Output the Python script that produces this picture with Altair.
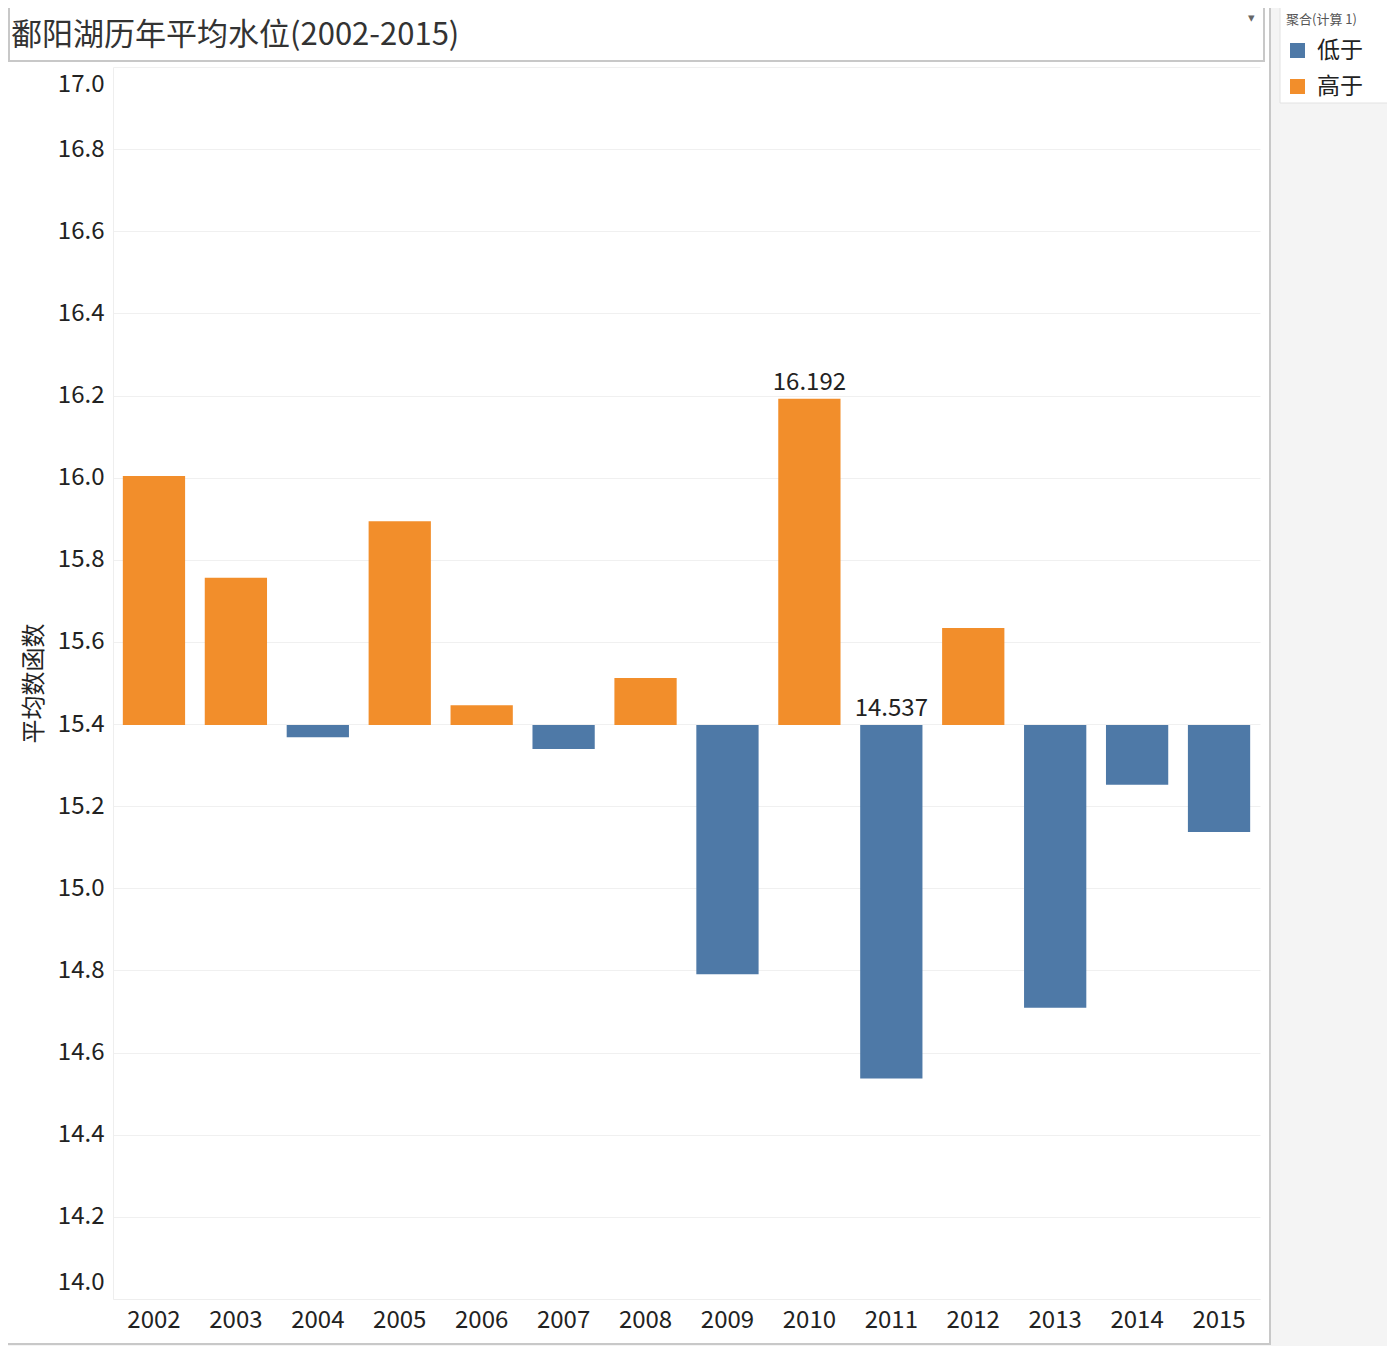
import altair as alt
import pandas as pd

# ---- data ----
years = ["2002", "2003", "2004", "2005", "2006", "2007", "2008",
         "2009", "2010", "2011", "2012", "2013", "2014", "2015"]
levels = [16.004, 15.756, 15.368, 15.894, 15.446, 15.339, 15.512,
          14.791, 16.192, 14.537, 15.634, 14.709, 15.252, 15.137]
y_ticks = [14.0, 14.2, 14.4, 14.6, 14.8, 15.0, 15.2, 15.4, 15.6,
           15.8, 16.0, 16.2, 16.4, 16.6, 16.8, 17.0]
categories = ["低于", "高于"]
cat_colors = ["#4e79a7", "#f28e2b"]
title_text = "鄱阳湖历年平均水位(2002-2015)"
y_title = "平均数函数"
legend_title = "聚合(计算 1)"

FONT = "Noto Sans CJK SC"
W, H = 1147, 1232

df = pd.DataFrame({"year": years, "level": levels})

base = alt.Chart(df).transform_joinaggregate(
    avg="mean(level)", vmax="max(level)", vmin="min(level)"
).transform_calculate(
    cat="datum.level >= datum.avg ? '高于' : '低于'",
    top="max(datum.level, datum.avg)",
)

x_enc = alt.X(
    "year:N", sort=years, title=None,
    scale=alt.Scale(paddingInner=0.24, paddingOuter=0.12),
    axis=alt.Axis(labelAngle=0, labelFontSize=24, labelPadding=9, ticks=False,
                  domain=True, domainColor="#eeeeee", labelColor="#222222",
                  labelFont=FONT, grid=False),
)
y_scale = alt.Scale(domain=[14, 17], nice=False, zero=False)

bars = base.mark_bar(cornerRadius=0).encode(
    x=x_enc,
    y=alt.Y("level:Q", scale=y_scale,
            axis=alt.Axis(values=y_ticks, format=".1f", title=y_title,
                          labelFontSize=24, labelColor="#222222", labelFont=FONT,
                          labelPadding=9, ticks=False, grid=True,
                          gridColor="#f0f0f0", domainColor="#eeeeee",
                          labelFlush=True, labelFlushOffset=-5,
                          titleFont=FONT, titleFontSize=24, titleFontWeight="normal",
                          titleColor="#222222", titlePadding=11)),
    y2="avg:Q",
    color=alt.Color("cat:N", scale=alt.Scale(domain=categories, range=cat_colors),
                    legend=alt.Legend(title=legend_title, orient="none",
                                      legendX=1173, legendY=-53,
                                      titleFont=FONT, titleFontSize=13,
                                      titleFontWeight="normal", titleColor="#555555",
                                      titlePadding=12,
                                      labelFont=FONT, labelFontSize=23,
                                      labelColor="#222222", labelOffset=8,
                                      symbolType="square", symbolSize=225,
                                      symbolStrokeWidth=0, symbolOpacity=1,
                                      rowPadding=12, padding=0)),
)

labels = base.transform_filter(
    "datum.level == datum.vmax || datum.level == datum.vmin"
).mark_text(baseline="bottom", dy=-4, fontSize=24, color="#222222", font=FONT).encode(
    x=alt.X("year:N", sort=years),
    y=alt.Y("top:Q", scale=y_scale),
    text=alt.Text("level:Q", format=".3f"),
)

# ---- decorative dashboard chrome (Tableau-like frame) ----
one = alt.Data(values=[{"k": 1}])
gray_panel = alt.Chart(one).mark_rect(fill="#f4f4f4").encode(
    x=alt.value(1157), x2=alt.value(1300), y=alt.value(-70), y2=alt.value(1300))
bottom_panel = alt.Chart(one).mark_rect(fill="#f4f4f4").encode(
    x=alt.value(-120), x2=alt.value(1300), y=alt.value(1277), y2=alt.value(1300))
divider = alt.Chart(one).mark_rule(color="#c8c8c8", strokeWidth=2).encode(
    x=alt.value(1157), y=alt.value(-70), y2=alt.value(1278))
bottom_rule = alt.Chart(one).mark_rule(color="#c8c8c8", strokeWidth=2).encode(
    x=alt.value(-120), x2=alt.value(1157), y=alt.value(1277))
legend_box = alt.Chart(one).mark_rect(fill="white", stroke="#e2e2e2", strokeWidth=1).encode(
    x=alt.value(1167), x2=alt.value(1300), y=alt.value(-70), y2=alt.value(36))
title_box = alt.Chart(one).mark_rect(fill="white", stroke="#c8c8c8", strokeWidth=2).encode(
    x=alt.value(-104), x2=alt.value(1151), y=alt.value(-62), y2=alt.value(-6))
title_mark = alt.Chart(one).mark_text(
    text=title_text, align="left", baseline="middle", fontSize=31,
    color="#333333", font=FONT).encode(x=alt.value(-102), y=alt.value(-31))
arrow = alt.Chart(one).mark_text(
    text="▾", align="center", baseline="middle", fontSize=13, color="#666666").encode(
    x=alt.value(1138), y=alt.value(-49))

chart = alt.layer(
    gray_panel, bottom_panel, divider, bottom_rule, legend_box,
    title_box, title_mark, arrow, bars, labels,
).properties(
    width=W, height=H,
    autosize=alt.AutoSizeParams(type="none"),
    padding={"left": 105, "top": 59, "right": 127, "bottom": 47},
    background="white",
).configure_view(stroke=None)

chart.save("out.html", embed_options={"renderer": "svg", "actions": False})
